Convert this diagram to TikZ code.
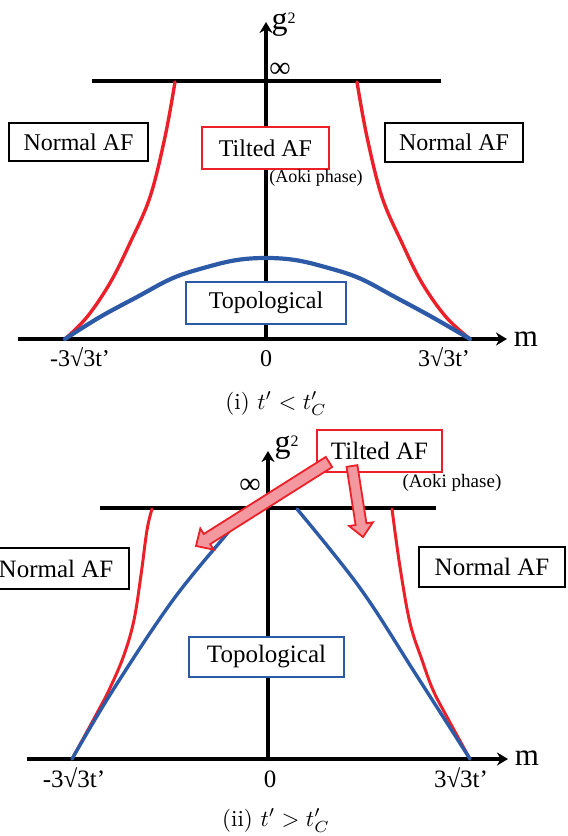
\documentclass[tikz,border=0pt]{standalone}
\usepackage{fontspec}
\newfontfamily\tms{Liberation Serif}
\usetikzlibrary{arrows.meta,calc}
\definecolor{myred}{RGB}{236,32,40}
\definecolor{myblue}{RGB}{44,90,166}
\definecolor{mypink}{RGB}{242,152,158}
\tikzset{
  blackline/.style={line width=4pt, draw=black},
  axisarrow/.style={line width=4pt, draw=black, -{Stealth[length=11pt,width=13pt]}},
  redcurve/.style={draw=myred, line width=3.4pt, line cap=round},
  bluecurve/.style={draw=myblue, line width=4.2pt, line cap=round},
  blackbox/.style={draw=black, line width=2.3pt, fill=white, inner sep=0pt},
  redbox/.style={draw=myred, line width=2pt, fill=white, inner sep=0pt},
  bluebox/.style={draw=myblue, line width=1.8pt, fill=white, inner sep=0pt},
  fA/.style={font=\tms\fontsize{24}{28}\selectfont},
  fB/.style={font=\tms\fontsize{25}{29}\selectfont},
  aoki/.style={inner sep=0pt, font=\tms\fontsize{18}{20}\selectfont},
  ticklabel/.style={inner sep=0pt, anchor=base},
  biglabel/.style={inner sep=0pt, font=\tms\fontsize{31}{34}\selectfont},
  caption/.style={inner sep=0pt, anchor=base},
  blockarrow/.style={fill=mypink, draw=myred, line width=1.8pt, line join=miter},
}
\newcommand{\gsq}[1]{g\raisebox{#1}{\fontsize{16}{16}\selectfont 2}}
\begin{document}
\begin{tikzpicture}[x=1pt,y=-1pt]
\useasboundingbox (0,0) rectangle (568,836);
\clip (0,0) rectangle (568,836);

% ================= panel (i) =================
\coordinate (iL) at (92,81);  \coordinate (iR) at (441,81);
\coordinate (iX0) at (18,339); \coordinate (iX1) at (507,339);
\coordinate (iY0) at (266,341); \coordinate (iY1) at (266,22);
\draw[blackline] (iL) -- (iR);
\draw[axisarrow] (iX0) -- (iX1);
\draw[axisarrow] (iY0) -- (iY1);

\draw[redcurve] plot[smooth, tension=0.6] coordinates {(65,339) (87,317) (110,283) (130,243) (150,197) (165,137) (175,82)};
\draw[redcurve] plot[smooth, tension=0.6] coordinates {(470,339) (446,317) (422,283) (402,243) (382,197) (367,137) (357,82)};
\draw[bluecurve] plot[smooth, tension=0.6] coordinates {(65,339) (100,317) (137,297) (173,278) (207,267) (237,260) (266,258) (295,260) (325,267) (359,278) (395,297) (432,317) (470,339)};

\node[blackbox, fA, minimum width=139pt, minimum height=38pt] (nafLi) at (78.5,142) {Normal AF};
\node[blackbox, fA, minimum width=138pt, minimum height=39pt] (nafRi) at (454,142.5) {Normal AF};
\node[redbox, fA, minimum width=127pt, minimum height=42pt] (tafi) at (265.5,148) {Tilted AF};
\node[aoki] (aokii) at (316,178) {(Aoki phase)};
\node[bluebox, fA, minimum width=160pt, minimum height=42pt] (topi) at (266,303) {Topological};

\node[ticklabel, fA] (lmi) at (80,366) {-3√3t’};
\node[ticklabel, fA] (l0i) at (266,366) {0};
\node[ticklabel, fA] (lpi) at (444,366) {3√3t’};
\node[biglabel] (mi) at (526,339) {m};
\node[biglabel, anchor=base west, font=\tms\fontsize{32}{34}\selectfont] (gi) at (271.5,29) {\gsq{5.7pt}};
\node[inner sep=0pt, font=\tms\fontsize{30}{32}\selectfont] (infi) at (280,70) {∞};
\node[caption] (capi) at (276,409) {\scalebox{2.3}{(i) $t' < t'_C$}};

% ================= panel (ii) =================
\coordinate (jL) at (100,508);  \coordinate (jR) at (436,508);
\coordinate (jX0) at (27,759); \coordinate (jX1) at (508,759);
\coordinate (jY0) at (268,761); \coordinate (jY1) at (268,451);
\draw[blackline] (jL) -- (jR);
\draw[axisarrow] (jX0) -- (jX1);
\draw[axisarrow] (jY0) -- (jY1);

\draw[redcurve, line width=3pt] plot[smooth, tension=0.6] coordinates {(72,759) (96,715) (110,688) (124,655) (134,620) (141,575) (147,530) (152,509)};
\draw[redcurve, line width=3pt] plot[smooth, tension=0.6] coordinates {(470,759) (447,717) (433,690) (422,660) (410,623) (400,567) (392,509)};
\draw[bluecurve, line width=3.4pt] plot[smooth, tension=0.6] coordinates {(72,759) (113,690) (173,600) (230,530) (246,509)};
\draw[bluecurve, line width=3.4pt] plot[smooth, tension=0.6] coordinates {(297,509) (360,588) (415,673) (470,759)};

\node[blackbox, fB, minimum width=146pt, minimum height=41pt] (nafLj) at (56,568.5) {Normal AF};
\node[blackbox, fB, minimum width=146pt, minimum height=40pt] (nafRj) at (492,567) {Normal AF};
\node[bluebox, fB, minimum width=155pt, minimum height=40pt] (topj) at (266.5,657) {Topological};
\node[redbox, fB, minimum width=125pt, minimum height=42pt] (tafj) at (379.5,451) {Tilted AF};
\node[aoki, font=\tms\fontsize{19}{21}\selectfont] (aokij) at (452,483) {(Aoki phase)};

% block arrows from the Tilted AF box
\coordinate (a1t) at (329,462); \coordinate (a1p) at (196,546);
\coordinate (a1h) at ($(a1p)!13pt!(a1t)$);
\filldraw[blockarrow] ($(a1t)!6pt!90:(a1p)$) -- ($(a1h)!6pt!-90:(a1t)$) -- ($(a1h)!12.5pt!-90:(a1t)$) -- (a1p) -- ($(a1h)!12.5pt!90:(a1t)$) -- ($(a1h)!6pt!90:(a1t)$) -- ($(a1t)!6pt!-90:(a1p)$) -- cycle;
\coordinate (a2t) at (352,466); \coordinate (a2p) at (363,537);
\coordinate (a2h) at ($(a2p)!13pt!(a2t)$);
\filldraw[blockarrow] ($(a2t)!5.5pt!90:(a2p)$) -- ($(a2h)!5.5pt!-90:(a2t)$) -- ($(a2h)!12pt!-90:(a2t)$) -- (a2p) -- ($(a2h)!12pt!90:(a2t)$) -- ($(a2h)!5.5pt!90:(a2t)$) -- ($(a2t)!5.5pt!-90:(a2p)$) -- cycle;

\node[ticklabel, fB] (lmj) at (74,787) {-3√3t’};
\node[ticklabel, fB] (l0j) at (270,787) {0};
\node[ticklabel, fB] (lpj) at (461,787) {3√3t’};
\node[biglabel] (mj) at (527,758) {m};
\node[biglabel, anchor=base west, font=\tms\fontsize{32}{34}\selectfont] (gj) at (274.5,452.5) {\gsq{6pt}};
\node[inner sep=0pt, font=\tms\fontsize{30}{32}\selectfont] (infj) at (250,486) {∞};
\node[caption] (capj) at (276,826) {\scalebox{2.3}{(ii) $t' > t'_C$}};
\end{tikzpicture}
\end{document}
